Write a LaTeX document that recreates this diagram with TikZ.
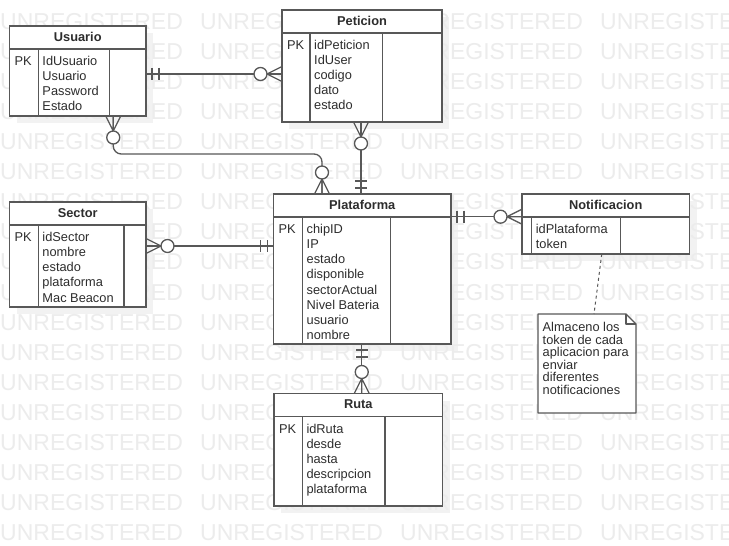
\documentclass[tikz,border=0pt]{standalone}
\usepackage{fontspec}
\setmainfont{Liberation Sans}
\definecolor{linec}{RGB}{88,88,88}
\definecolor{textc}{RGB}{45,45,45}
\definecolor{wmc}{RGB}{236,236,236}
\definecolor{shc}{RGB}{242,242,242}
\pgfdeclarelayer{bgl}
\pgfdeclarelayer{shadow}
\pgfdeclarelayer{wmark}
\pgfsetlayers{bgl,shadow,wmark,main}
\tikzset{
  ent/.style={draw=linec, line width=1.3bp, fill=white, inner sep=0pt, outer sep=0pt},
  edge/.style={draw=linec, line width=1.3bp},
  conn/.style={draw=linec, line width=1.3bp, line join=round},
  ttl/.style={font=\bfseries\fontsize{12.8bp}{15bp}\selectfont, text=textc, inner sep=0pt, anchor=base},
  attr/.style={font=\fontsize{12.8bp}{15bp}\selectfont, text=textc, inner sep=0pt, anchor=base west},
  wm/.style={font=\fontsize{23bp}{28bp}\selectfont, text=wmc, inner sep=0pt, anchor=base west},
}
% entity box: name, x1, y1, x2, y2, divider1, divider2, title
\newcommand\erent[8]{%
  \begin{pgfonlayer}{shadow}
    \fill[shc] ({#2+7},{#3+7}) rectangle ({#4+7},{#5+7});
  \end{pgfonlayer}
  \node[ent, minimum width={(#4-#2)*1bp}, minimum height={(#5-#3)*1bp}] (#1) at ({(#2+#4)/2},{(#3+#5)/2}) {};
  \draw[edge] ({#2},{#3+23}) -- ({#4},{#3+23});
  \draw[edge] ({#6},{#3+23}) -- ({#6},{#5});
  \draw[edge] ({#7},{#3+23}) -- ({#7},{#5});
  \node[ttl] (#1-t) at ({(#2+#4)/2},{#3+15.3}) {#8};
}
% name, x1, y1
\newcommand\erpk[3]{%
  \node[attr] (#1-pk) at ({#2+5},{#3+40}) {PK};
}
% name, divider1, y1, list
\newcommand\erattrs[4]{%
  \foreach \t [count=\i] in {#4} \node[attr] (#1-a\i) at ({#2+4},{#3+25+15*\i}) {\t};
}
% mandatory one (two bars)
\newcommand\dmone[2]{%
  \begin{scope}[shift={(#1)}, rotate=#2]
    \draw[conn] (6,-6) -- (6,6) (13,-6) -- (13,6);
  \end{scope}}
% zero or many
\newcommand\dmzm[2]{%
  \begin{scope}[shift={(#1)}, rotate=#2]
    \draw[conn] (0,-7.5) -- (15,0) -- (0,7.5) (0,0) -- (15,0);
    \draw[conn, fill=white] (21.5,0) circle[radius=6.5bp];
  \end{scope}}
\begin{document}
\begin{tikzpicture}[x=1bp,y=-1bp]
\useasboundingbox (0,0) rectangle (729,546);
\begin{pgfonlayer}{bgl}
  \fill[white] (0,0) rectangle (729,546);
\end{pgfonlayer}
\begin{pgfonlayer}{wmark}
  \begin{scope}
    \clip (0,0) rectangle (729,546);
    \foreach \r in {0,...,17} {
      \foreach \c in {0,...,3} {
        \node[wm] (wm-\r-\c) at ({200*\c},{30+30*\r}) {UNREGISTERED};
      }
    }
  \end{scope}
\end{pgfonlayer}

% Entities
\erent{usuario}{9.5}{26}{146}{116}{38.3}{109.3}{Usuario}
\erpk{usuario}{9.5}{26}
\erattrs{usuario}{38.3}{26}{IdUsuario,Usuario,Password,Estado}

\erent{peticion}{282}{10}{442}{122}{310}{382.3}{Peticion}
\erpk{peticion}{282}{10}
\erattrs{peticion}{310}{10}{idPeticion,IdUser,codigo,dato,estado}

\erent{sector}{9.5}{202}{146}{307}{38.3}{124}{Sector}
\erpk{sector}{9.5}{202}
\erattrs{sector}{38.3}{202}{idSector,nombre,estado,plataforma,Mac Beacon}

\erent{plataforma}{273.5}{194}{451}{344}{302.5}{390.8}{Plataforma}
\erpk{plataforma}{273.5}{194}
\erattrs{plataforma}{302.5}{194}{chipID,IP,estado,disponible,sectorActual,Nivel Bateria,usuario,nombre}

\erent{notif}{522}{194}{689.5}{254}{531.7}{620.7}{Notificacion}
\erattrs{notif}{531.7}{194}{idPlataforma,token}

\erent{ruta}{274}{393.5}{442.5}{506}{302.3}{385}{Ruta}
\erpk{ruta}{274}{393.5}
\erattrs{ruta}{302.3}{393.5}{idRuta,desde,hasta,descripcion,plataforma}

% Note
\node[inner sep=0pt, outer sep=0pt, minimum width=98bp, minimum height=99bp] (note) at (587,363.5) {};
\draw[conn, fill=white] (note.north west) -- ([xshift=-10bp]note.north east) -- ([yshift=-10bp]note.north east) -- (note.south east) -- (note.south west) -- cycle;
\draw[conn] ([xshift=-10bp]note.north east) -- ([xshift=-10bp,yshift=-10bp]note.north east) -- ([yshift=-10bp]note.north east);
\foreach \t [count=\i] in {Almaceno los,token de cada,aplicacion para,enviar,diferentes,notificaciones}
  \node[attr] (note-l\i) at (542.5,{319.2+12.5*\i}) {\t};
\draw[conn, line width=1bp, dash pattern=on 3bp off 3bp] ([xshift=-4bp]notif.south) -- ([xshift=7bp]note.north);

% Usuario - Peticion
\coordinate (c1a) at ([yshift=-3bp]usuario.east);
\coordinate (c1b) at (c1a -| peticion.west);
\draw[conn] (c1a) -- (c1b);
\dmone{c1a}{0}
\dmzm{c1b}{180}

% Usuario - Plataforma
\coordinate (c2a) at ([xshift=35.5bp]usuario.south);
\coordinate (c2b) at ([xshift=-40.25bp]plataforma.north);
\draw[conn, rounded corners=8bp] (c2a) -- ++(0,38) -| (c2b);
\dmzm{c2a}{-90}
\dmzm{c2b}{90}

% Peticion - Plataforma
\coordinate (c3a) at ([xshift=-1bp]peticion.south);
\coordinate (c3b) at (c3a |- plataforma.north);
\draw[conn] (c3a) -- (c3b);
\dmzm{c3a}{-90}
\dmone{c3b}{90}

% Sector - Plataforma
\coordinate (c4a) at ([yshift=8.5bp]sector.east);
\coordinate (c4b) at (c4a -| plataforma.west);
\draw[conn] (c4a) -- (c4b);
\dmzm{c4a}{0}
\dmone{c4b}{180}

% Plataforma - Notificacion
\coordinate (c5a) at ([yshift=52.3bp]plataforma.east);
\coordinate (c5b) at (c5a -| notif.west);
\draw[conn] (c5a) -- (c5b);
\dmone{c5a}{0}
\dmzm{c5b}{180}

% Plataforma - Ruta
\coordinate (c6a) at ([xshift=-0.5bp]plataforma.south);
\coordinate (c6b) at (c6a |- ruta.north);
\draw[conn] (c6a) -- (c6b);
\dmone{c6a}{-90}
\dmzm{c6b}{90}
\end{tikzpicture}
\end{document}
